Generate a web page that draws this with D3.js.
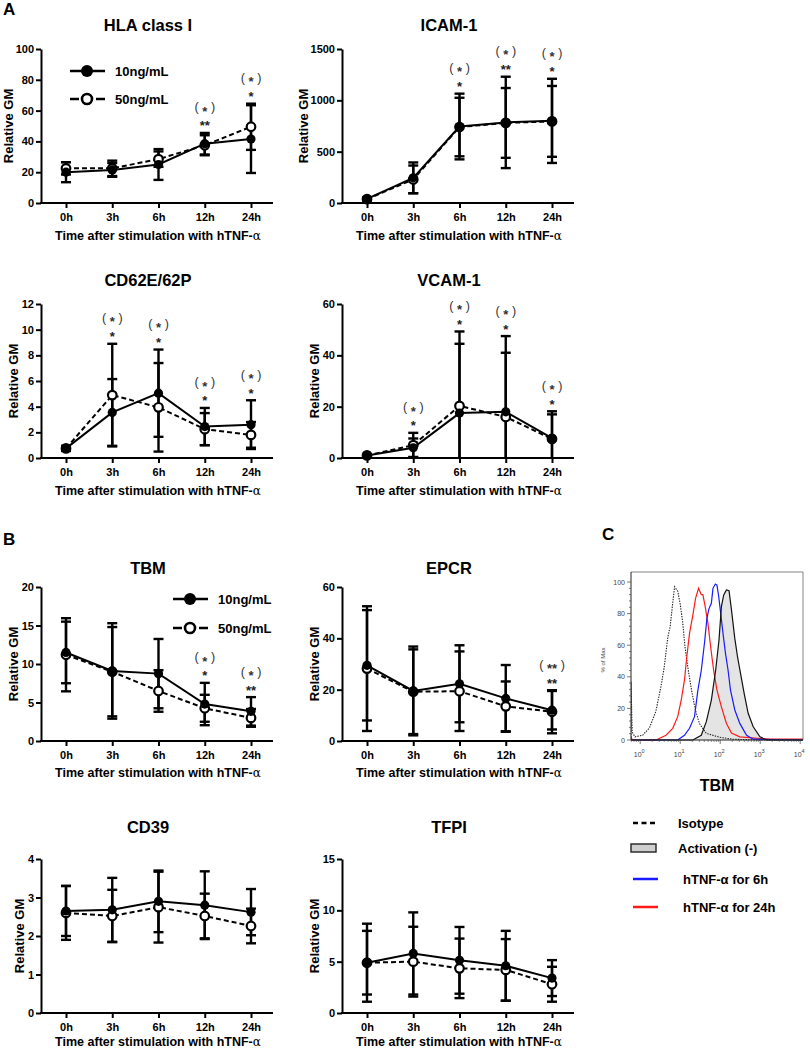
<!DOCTYPE html>
<html><head><meta charset="utf-8">
<script src="https://cdn.jsdelivr.net/npm/d3@7"></script>
<style>body{margin:0;background:#fff}svg{display:block}</style>
</head><body>
<svg id="c" width="810" height="1050"></svg>
<script>
// ---------- DATA ----------
const timepoints = ["0h","3h","6h","12h","24h"];

const hlaTicks = [0,20,40,60,80,100];
const hla10 = [20, 21.5, 25, 38.5, 41.5];
const hla10Err = [6.5, 4.5, 10, 7, 22];
const hla50 = [22.5, 22.5, 28.5, 37.5, 49.5];
const hla50Err = [4, 5, 5, 6.5, 15];
const hlaSig = ["","","","**","*"];
const hlaSigP = ["","","","(*)","(*)"];

const icamTicks = [0,500,1000,1500];
const icam10 = [40, 245, 745, 785, 800];
const icam10Err = [15, 150, 320, 445, 410];
const icam50 = [38, 230, 740, 780, 795];
const icam50Err = [12, 135, 285, 340, 345];
const icamSig = ["","","*","**","*"];
const icamSigP = ["","","(*)","(*)","(*)"];

const cd62Ticks = [0,2,4,6,8,10,12];
const cd62_10 = [0.75, 3.55, 5.05, 2.45, 2.6];
const cd62_10Err = [0.2, 2.6, 3.4, 1.45, 1.9];
const cd62_50 = [0.75, 4.9, 3.95, 2.25, 1.8];
const cd62_50Err = [0.15, 4.0, 3.45, 1.25, 1.0];
const cd62Sig = ["","*","*","*","*"];
const cd62SigP = ["","(*)","(*)","(*)","(*)"];

const vcamTicks = [0,20,40,60];
const vcam10 = [1, 4, 17.5, 18, 7.7];
const vcam10Err = [0.5, 3.6, 27, 29.5, 10.5];
const vcam50 = [1, 5, 20.3, 16, 7.4];
const vcam50Err = [0.4, 4.8, 29, 25, 9.6];
const vcamSig = ["","*","*","*","*"];
const vcamSigP = ["","(*)","(*)","(*)","(*)"];

const tbmTicks = [0,5,10,15,20];
const tbm10 = [11.5, 9.1, 8.75, 4.8, 3.85];
const tbm10Err = [4.0, 6.2, 4.5, 2.75, 1.85];
const tbm50 = [11.2, 9.0, 6.5, 4.25, 3.0];
const tbm50Err = [4.75, 5.8, 2.7, 1.75, 1.15];
const tbmSig = ["","","","*","**"];
const tbmSigP = ["","","","(*)","(*)"];

const epcrTicks = [0,20,40,60];
const epcr10 = [29.5, 19.5, 22.3, 16.6, 12];
const epcr10Err = [21.5, 17.3, 15, 13, 7.5];
const epcr50 = [28.2, 19.2, 19.4, 13.5, 11.4];
const epcr50Err = [24.3, 16.5, 15.5, 9.7, 8.4];
const epcrSig = ["","","","","**"];
const epcrSigP = ["","","","","(**)"];

const cd39Ticks = [0,1,2,3,4];
const cd39_10 = [2.65, 2.68, 2.9, 2.8, 2.62];
const cd39_10Err = [0.65, 0.83, 0.8, 0.88, 0.6];
const cd39_50 = [2.6, 2.52, 2.75, 2.52, 2.26];
const cd39_50Err = [0.7, 0.68, 0.92, 0.58, 0.45];
const cd39Sig = ["","","","",""];
const cd39SigP = ["","","","",""];

const tfpiTicks = [0,5,10,15];
const tfpi10 = [4.9, 5.8, 5.13, 4.6, 3.4];
const tfpi10Err = [3.8, 4.0, 3.25, 3.4, 1.75];
const tfpi50 = [4.9, 5.0, 4.35, 4.2, 2.8];
const tfpi50Err = [3.1, 3.4, 2.9, 3.0, 1.7];
const tfpiSig = ["","","","",""];
const tfpiSigP = ["","","","",""];

const seriesNames = ["10ng/mL","50ng/mL"];

// Flow cytometry histogram (panel C): [log10 intensity, % of max]
const histYTicks = [0,20,40,60,80,100];
const histDecades = [0,1,2,3,4];
const isotypeCurve = [[-0.23,0],[-0.23,37],[-0.2,5],[-0.13,2],[0.06,3],[0.23,7.6],[0.39,18],[0.52,34],[0.60,46],[0.69,65],[0.75,72],[0.81,86],[0.86,97],[0.94,94],[1.0,86],[1.06,75],[1.12,59],[1.19,46],[1.28,32],[1.38,19],[1.48,10.5],[1.65,4.2],[1.99,1.7],[2.31,0.5],[2.99,0],[4.07,0]];
const activationNegCurve = [[-0.23,0],[1.316,0],[1.527,3],[1.653,11.6],[1.779,25.3],[1.887,44.3],[1.97,63.3],[2.03,84.4],[2.088,91.8],[2.156,95],[2.221,94.5],[2.282,82.3],[2.365,64.3],[2.433,52.7],[2.516,41],[2.599,29.5],[2.699,16.9],[2.825,8.4],[2.994,2],[3.162,0],[4.07,0]];
const tnf6hCurve = [[-0.23,0],[0.938,0],[1.107,3],[1.233,7.4],[1.358,14.8],[1.442,31.6],[1.527,44],[1.61,62],[1.668,77],[1.718,83],[1.779,86.5],[1.819,96],[1.879,98.7],[1.919,98],[1.962,91],[2.013,80],[2.07,67.5],[2.131,55],[2.196,44.3],[2.257,31.6],[2.365,19],[2.49,10.5],[2.659,3],[2.825,0.5],[4.07,0]];
const tnf24hCurve = [[-0.23,0],[-0.23,2],[-0.2,0],[0.395,0],[0.647,3],[0.813,7.4],[0.938,14.8],[1.024,25],[1.107,38],[1.165,52.7],[1.233,67.5],[1.316,79],[1.384,89.6],[1.459,96],[1.527,92],[1.567,92],[1.628,84],[1.693,74],[1.761,59],[1.836,44],[1.919,31.6],[2.03,21],[2.156,10.5],[2.282,4.4],[2.49,2],[3.245,0.5],[4.07,0.5]];
const histLegend = ["Isotype","Activation (-)","hTNF-\u03b1 for 6h","hTNF-\u03b1 for 24h"];

// ---------- LAYOUT ----------
const FONT = "'Liberation Sans', Arial, Helvetica, sans-serif";
const svg = d3.select("#c");
const colX = [41, 342];
const rowTop = [49, 304, 587, 859];
const rowTitleY = [25, 280, 568, 827];
const rowXTitleDy = [37, 37, 36, 33];
const PLOT_H = 154;

const panels = [
  {title:"HLA class I", col:0,row:0, ticks:hlaTicks, a:hla10, ae:hla10Err, b:hla50, be:hla50Err, sig:hlaSig, sigP:hlaSigP, legend:{dx:29, dy:[22,50]}},
  {title:"ICAM-1", col:1,row:0, ticks:icamTicks, a:icam10, ae:icam10Err, b:icam50, be:icam50Err, sig:icamSig, sigP:icamSigP},
  {title:"CD62E/62P", col:0,row:1, ticks:cd62Ticks, a:cd62_10, ae:cd62_10Err, b:cd62_50, be:cd62_50Err, sig:cd62Sig, sigP:cd62SigP},
  {title:"VCAM-1", col:1,row:1, ticks:vcamTicks, a:vcam10, ae:vcam10Err, b:vcam50, be:vcam50Err, sig:vcamSig, sigP:vcamSigP},
  {title:"TBM", col:0,row:2, ticks:tbmTicks, a:tbm10, ae:tbm10Err, b:tbm50, be:tbm50Err, sig:tbmSig, sigP:tbmSigP, legend:{dx:132, dy:[12,41]}},
  {title:"EPCR", col:1,row:2, ticks:epcrTicks, a:epcr10, ae:epcr10Err, b:epcr50, be:epcr50Err, sig:epcrSig, sigP:epcrSigP},
  {title:"CD39", col:0,row:3, ticks:cd39Ticks, a:cd39_10, ae:cd39_10Err, b:cd39_50, be:cd39_50Err, sig:cd39Sig, sigP:cd39SigP},
  {title:"TFPI", col:1,row:3, ticks:tfpiTicks, a:tfpi10, ae:tfpi10Err, b:tfpi50, be:tfpi50Err, sig:tfpiSig, sigP:tfpiSigP}
];

function txt(g, x, y, s, size, opts={}){
  return g.append("text").attr("x",x).attr("y",y).text(s)
    .attr("font-family",FONT).attr("font-size",size)
    .attr("font-weight",opts.weight||"bold").attr("fill",opts.fill||"#000")
    .attr("text-anchor",opts.anchor||"start");
}

function drawPanel(p){
  const ax = colX[p.col], top = rowTop[p.row], bot = top + PLOT_H;
  const x = d3.scalePoint().domain(timepoints).range([ax+25, ax+210]);
  const y = d3.scaleLinear().domain([0, p.ticks[p.ticks.length-1]]).range([bot, top]);
  const g = svg.append("g");

  const ya = g.append("g").attr("transform",`translate(${ax},0)`)
    .call(d3.axisLeft(y).tickValues(p.ticks).tickFormat(d=>String(d)).tickSize(5).tickSizeOuter(0).tickPadding(2));
  const xa = g.append("g").attr("transform",`translate(0,${bot})`)
    .call(d3.axisBottom(x).tickSize(5).tickSizeOuter(0).tickPadding(5));
  xa.select(".domain").attr("d",`M${ax-1},0H${ax+232}`);
  [ya,xa].forEach(a=>{
    a.selectAll("path,line").attr("stroke","#000").attr("stroke-width",2);
    a.selectAll("text").attr("font-family",FONT).attr("font-weight","bold").attr("font-size",11).attr("fill","#000");
  });

  // titles
  txt(g, ax+107, rowTitleY[p.row]+6, p.title, 16.5, {anchor:"middle"});
  txt(g, ax+117, bot+rowXTitleDy[p.row], "Time after stimulation with hTNF-", 12.5, {anchor:"middle"})
    .append("tspan").text("\u03b1").attr("font-family","'DejaVu Serif', 'Liberation Serif', serif").attr("font-weight","normal").attr("font-size",12);
  const maxDigits = d3.max(p.ticks, t=>String(t).length);
  txt(g, 0, 0, "Relative GM", 13, {anchor:"middle"})
    .attr("transform",`translate(${ax-12-maxDigits*5.5},${(top+bot)/2}) rotate(-90)`);

  // error bars
  const cap = 5;
  function errBars(vals, errs){
    vals.forEach((v,i)=>{
      const cx = x(timepoints[i]);
      const hi = v+errs[i], lo = v-errs[i];
      g.append("line").attr("x1",cx).attr("x2",cx).attr("y1",y(hi)).attr("y2",y(Math.max(0,lo)))
        .attr("stroke","#000").attr("stroke-width",2.4);
      g.append("line").attr("x1",cx-cap).attr("x2",cx+cap).attr("y1",y(hi)).attr("y2",y(hi))
        .attr("stroke","#000").attr("stroke-width",2.4);
      if(lo>=0) g.append("line").attr("x1",cx-cap).attr("x2",cx+cap).attr("y1",y(lo)).attr("y2",y(lo))
        .attr("stroke","#000").attr("stroke-width",2.4);
    });
  }
  errBars(p.a, p.ae);
  errBars(p.b, p.be);

  const line = d3.line().x((d,i)=>x(timepoints[i])).y(d=>y(d));
  g.append("path").attr("d",line(p.b)).attr("fill","none").attr("stroke","#000").attr("stroke-width",2).attr("stroke-dasharray","5,3");
  g.append("path").attr("d",line(p.a)).attr("fill","none").attr("stroke","#000").attr("stroke-width",2);

  p.b.forEach((v,i)=>g.append("circle").attr("cx",x(timepoints[i])).attr("cy",y(v)).attr("r",4.3)
    .attr("fill","#fff").attr("stroke","#000").attr("stroke-width",2.2));
  p.a.forEach((v,i)=>g.append("circle").attr("cx",x(timepoints[i])).attr("cy",y(v)).attr("r",4.6).attr("fill","#000"));

  // significance
  timepoints.forEach((t,i)=>{
    const topV = Math.max(p.a[i]+p.ae[i], p.b[i]+p.be[i]);
    const ty = y(topV);
    if(p.sig[i]) txt(g, x(t), ty-10+7.5, p.sig[i], 13, {anchor:"middle", fill:"#222"});
    if(p.sigP[i]){
      const inner = p.sigP[i].replace(/[()]/g,"");
      const st = txt(g, x(t), ty-25+3.5, "(", 12.5, {anchor:"middle", weight:"normal", fill:"#333"});
      st.text(null);
      st.append("tspan").text("(");
      st.append("tspan").text(" "+inner+" ").attr("dy",4.2).attr("font-weight","bold").attr("font-size",13);
      st.append("tspan").text(")").attr("dy",-4.2);
    }
  });

  // legend
  if(p.legend){
    const lx = ax + p.legend.dx;
    p.legend.dy.forEach((dy,k)=>{
      const ly = top + dy;
      g.append("line").attr("x1",lx).attr("x2",lx+35).attr("y1",ly).attr("y2",ly)
        .attr("stroke","#000").attr("stroke-width",2.5).attr("stroke-dasharray",k? "9,4":null);
      g.append("circle").attr("cx",lx+17).attr("cy",ly).attr("r",k?5:6)
        .attr("fill",k?"#fff":"#000").attr("stroke","#000").attr("stroke-width",k?2.6:0);
      txt(g, lx+45, ly+4.5, seriesNames[k], 13);
    });
  }
}
panels.forEach(drawPanel);

// panel letters
txt(svg, 3, 15, "A", 17);
txt(svg, 3, 545, "B", 17);
txt(svg, 602, 540, "C", 17);

// ---------- Panel C histogram ----------
(function(){
  const L=631, R=803, T=572, B=740;
  const hx = d3.scaleLinear().domain([-0.23, 4.07]).range([L, R]);
  const hy = d3.scaleLinear().domain([0,100]).range([B, 582]);
  const g = svg.append("g");
  g.append("defs").append("clipPath").attr("id","hc").append("rect").attr("x",L).attr("y",T).attr("width",R-L).attr("height",B-T+1);
  const pg = g.append("g").attr("clip-path","url(#hc)");
  const ln = d3.line().x(d=>hx(d[0])).y(d=>hy(d[1]));
  const ar = d3.area().x(d=>hx(d[0])).y0(hy(0)).y1(d=>hy(d[1]));
  pg.append("path").attr("d",ar(activationNegCurve)).attr("fill","#e4e4e4");
  pg.append("path").attr("d",ln(isotypeCurve)).attr("fill","none").attr("stroke","#222").attr("stroke-width",1.1).attr("stroke-dasharray","1.4,1.2");
  pg.append("path").attr("d",ln(tnf24hCurve)).attr("fill","none").attr("stroke","#ff1a1a").attr("stroke-width",1.2);
  pg.append("path").attr("d",ln(tnf6hCurve)).attr("fill","none").attr("stroke","#1a1aff").attr("stroke-width",1.2);
  pg.append("path").attr("d",ln(activationNegCurve)).attr("fill","none").attr("stroke","#111").attr("stroke-width",1.2);

  // frame
  g.append("path").attr("d",`M${L},${T}H${R}V${B}`).attr("fill","none").attr("stroke","#666").attr("stroke-width",0.8);
  g.append("line").attr("x1",L).attr("x2",L).attr("y1",T).attr("y2",B).attr("stroke","#222").attr("stroke-width",1);
  g.append("line").attr("x1",L).attr("x2",R).attr("y1",B).attr("y2",B).attr("stroke","#222").attr("stroke-width",1);

  // y ticks
  d3.range(0,101,4).forEach(v=>{
    const major = histYTicks.includes(v);
    g.append("line").attr("x1",L-(major?4:2)).attr("x2",L).attr("y1",hy(v)).attr("y2",hy(v)).attr("stroke","#444").attr("stroke-width",0.7);
  });
  histYTicks.forEach(v=>txt(g, L-6, hy(v)+2.5, String(v), 7, {anchor:"end", weight:"normal", fill:"#444"}));
  txt(g,0,0,"% of Max",6,{anchor:"middle",weight:"normal",fill:"#444"}).attr("transform",`translate(${L-26},660) rotate(-90)`);

  // x ticks (log decades)
  histDecades.forEach(d=>{
    g.append("line").attr("x1",hx(d)).attr("x2",hx(d)).attr("y1",B).attr("y2",B+4).attr("stroke","#444").attr("stroke-width",0.7);
    const t = txt(g, hx(d)-1, B+17, "10", 7, {anchor:"middle", weight:"normal", fill:"#444"});
    t.append("tspan").text(String(d)).attr("font-size",5.5).attr("dy",-4);
    if(d<4) for(let k=2;k<10;k++){
      const xx = hx(d+Math.log10(k));
      g.append("line").attr("x1",xx).attr("x2",xx).attr("y1",B).attr("y2",B+2).attr("stroke","#444").attr("stroke-width",0.6);
    }
  });
  [2,3,4,5,6,7,8,9].forEach(k=>{ const xx=hx(-1+Math.log10(k)); if(xx>=L) g.append("line").attr("x1",xx).attr("x2",xx).attr("y1",B).attr("y2",B+2).attr("stroke","#444").attr("stroke-width",0.6);});

  txt(g, 717, 791, "TBM", 16, {anchor:"middle"});

  // legend
  const lx=633, ly=[823,848,879,907];
  g.append("line").attr("x1",lx).attr("x2",lx+25).attr("y1",ly[0]).attr("y2",ly[0]).attr("stroke","#000").attr("stroke-width",2.3).attr("stroke-dasharray","5,3.5");
  g.append("rect").attr("x",lx-2).attr("y",ly[1]-4).attr("width",25).attr("height",8).attr("fill","#cfcfcf").attr("stroke","#222").attr("stroke-width",1.4);
  g.append("line").attr("x1",lx).attr("x2",lx+25).attr("y1",ly[2]).attr("y2",ly[2]).attr("stroke","#1a1aff").attr("stroke-width",2.5);
  g.append("line").attr("x1",lx).attr("x2",lx+25).attr("y1",ly[3]).attr("y2",ly[3]).attr("stroke","#ff1a1a").attr("stroke-width",2.5);
  histLegend.forEach((s,i)=>txt(g, i<2?678:683, ly[i]+4.5, s, 13));
})();
</script>
</body></html>
